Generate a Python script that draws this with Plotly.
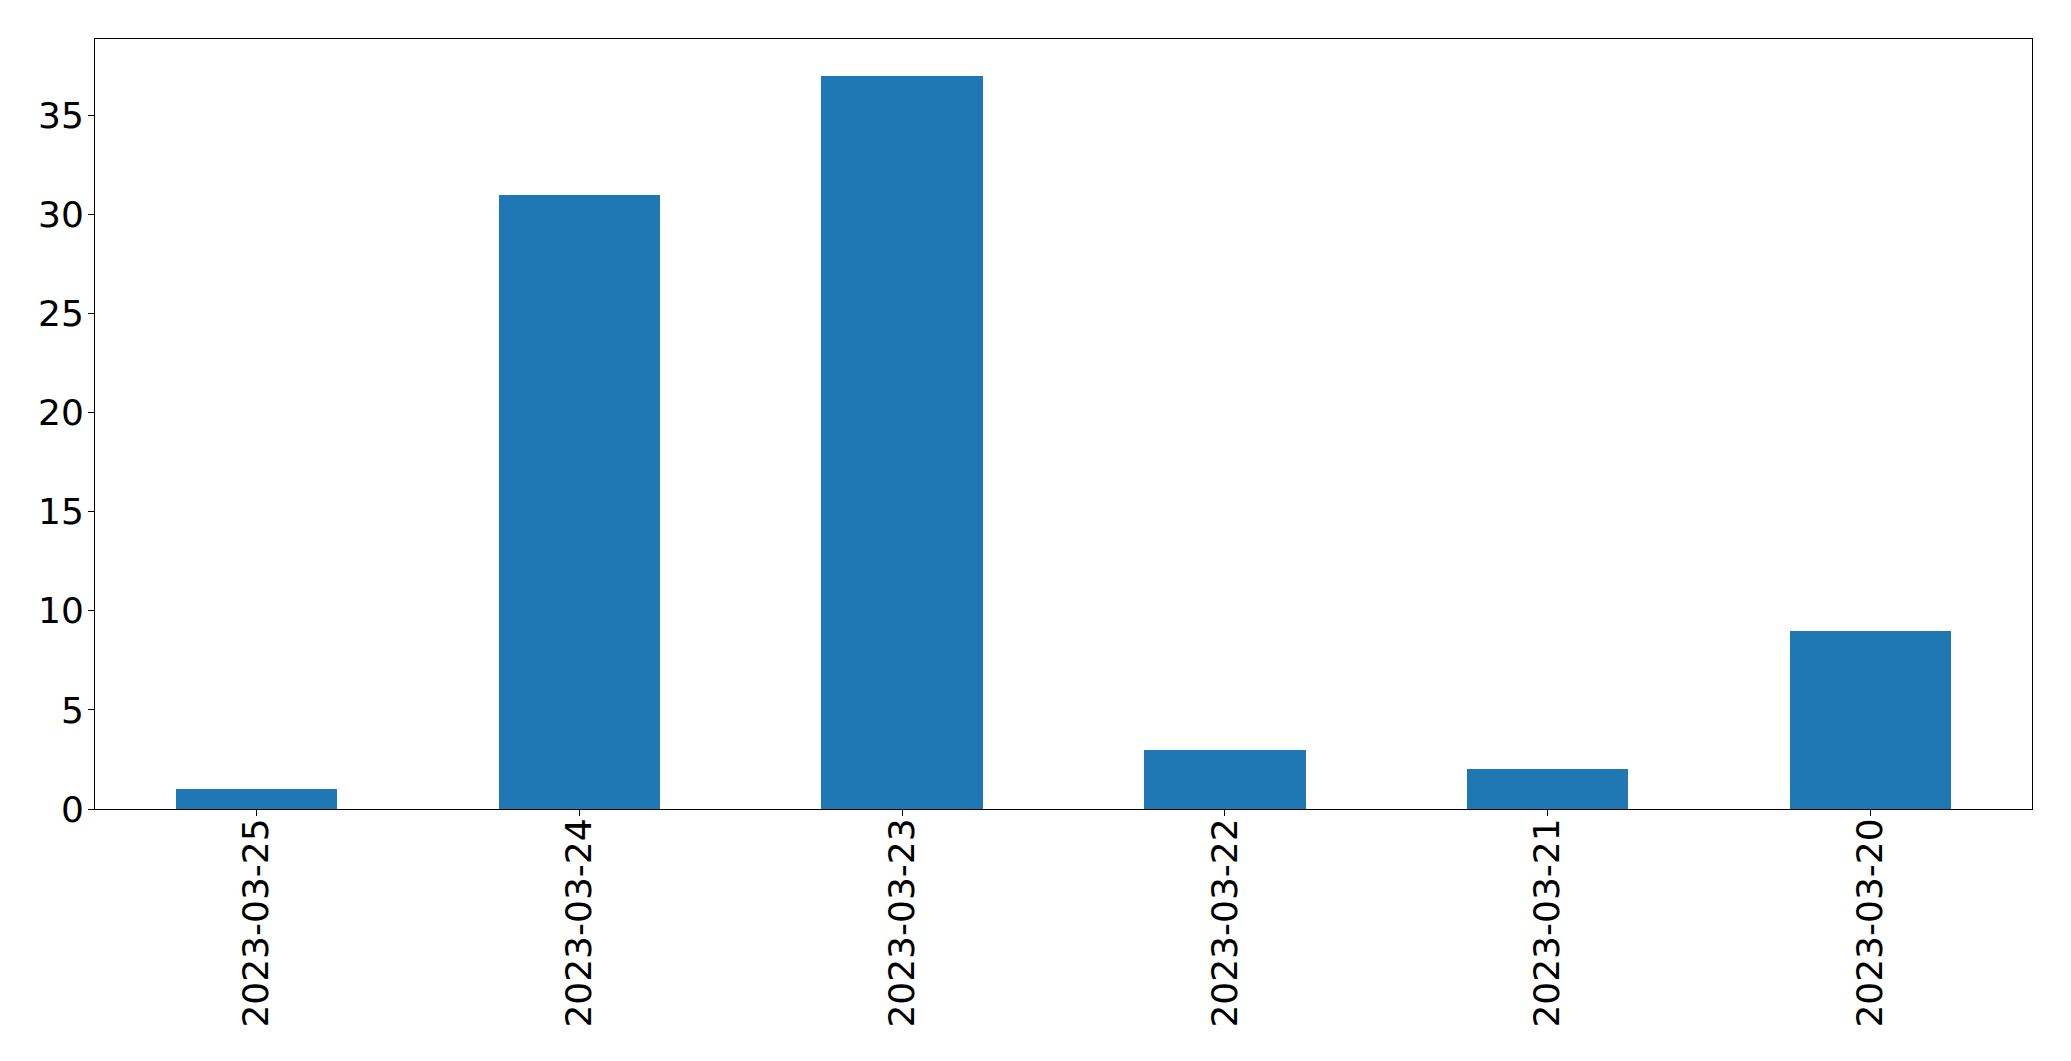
import plotly.graph_objects as go

dates = ["2023-03-25", "2023-03-24", "2023-03-23", "2023-03-22", "2023-03-21", "2023-03-20"]
counts = [1, 31, 37, 3, 2, 9]
y_ticks = [0, 5, 10, 15, 20, 25, 30, 35]

fig = go.Figure(go.Bar(x=list(range(len(dates))), y=counts, width=0.5,
                       marker=dict(color="#1f77b4", line=dict(width=0))))

W, H = 2071, 1061
# page body has an 8px margin; compensate so the plot area lands where the reference has it
fig.update_layout(
    width=W, height=H,
    margin=dict(l=87, r=47, t=31, b=260, autoexpand=False),
    paper_bgcolor="white", plot_bgcolor="white",
    font=dict(family="DejaVu Sans", size=36, color="black"),
    showlegend=False,
    bargap=0,
)
fig.update_xaxes(
    range=[-0.5, len(dates) - 0.5],
    tickmode="array", tickvals=list(range(len(dates))), ticktext=dates,
    tickangle=-90, ticks="outside", ticklen=6, tickwidth=1, tickcolor="black",
    showline=True, linecolor="black", linewidth=1, mirror=True,
    showgrid=False, zeroline=False, ticklabelstandoff=-12,
)
fig.update_yaxes(
    range=[0, max(counts) * 1.05],
    tickmode="array", tickvals=y_ticks,
    ticks="outside", ticklen=6, tickwidth=1, tickcolor="black",
    showline=True, linecolor="black", linewidth=1, mirror=True,
    showgrid=False, zeroline=False, ticklabelstandoff=-3,
)
fig.write_html("out.html")
